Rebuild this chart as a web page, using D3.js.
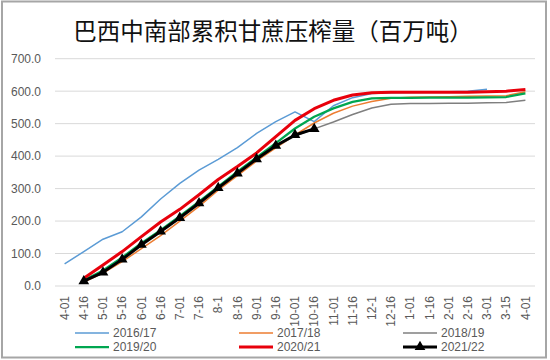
<!DOCTYPE html>
<html><head><meta charset="utf-8">
<script src="https://cdn.jsdelivr.net/npm/d3@7"></script>
<style>body{margin:0;background:#fff}svg{display:block}</style>
</head><body><svg id="c" width="550" height="360"></svg>
<script>
const categories = ["4-01","4-16","5-01","5-16","6-01","6-16","7-01","7-16","8-1","8-16","9-01","9-16","10-01","10-16","11-01","11-16","12-1","12-16","1-01","1-16","2-01","2-16","3-01","3-15","4-01"];
const yTicks = [0,100,200,300,400,500,600,700];
const s2016 = [68,106,144,167,213,268,316,357,390,426,470,506,536,506,555,580,593,595,596,597,598,600,606,null,null];
const s2017 = [null,12,40,75,115,155,200,245,295,340,385,425,465,502,532,554,568,578,581,582,583,584,585,586,598];
const s2018 = [null,15,45,85,128,168,210,255,302,348,392,430,462,484,505,528,548,560,562,562,563,563,564,565,572];
const s2019 = [null,18,48,88,132,172,215,260,306,352,396,440,485,521,547,567,578,579,579,580,580,580,581,582,593];
const s2020 = [null,24,65,106,152,197,236,281,328,368,410,460,510,546,572,588,595,597,597,597,597,597,598,600,605];
const s2021 = [null,15,42,82,127,168,210,255,302,347,391,432,465,484,null,null,null,null,null,null,null,null,null,null,null];
const seriesNames = ["2016/17","2017/18","2018/19","2019/20","2020/21","2021/22"];

const series = [
  {name:seriesNames[0], values:s2016, color:"#5B9BD5", w:1.5},
  {name:seriesNames[1], values:s2017, color:"#ED7D31", w:1.5},
  {name:seriesNames[2], values:s2018, color:"#7F7F7F", w:1.5},
  {name:seriesNames[3], values:s2019, color:"#00A650", w:2.25},
  {name:seriesNames[4], values:s2020, color:"#E8000B", w:3},
  {name:seriesNames[5], values:s2021, color:"#000000", w:3, marker:true}
];

const svg = d3.select("#c");
svg.append("rect").attr("x",2).attr("y",1.5).attr("width",544).attr("height",356)
  .attr("fill","#fff").attr("stroke","#a6a6a6").attr("stroke-width",2);

svg.append("text").attr("x",273).attr("y",39.5).attr("text-anchor","middle")
  .attr("font-family","'Noto Sans CJK SC'").attr("font-size",23.5).attr("fill","#111")
  .text("巴西中南部累积甘蔗压榨量（百万吨）");

const x = d3.scaleBand().domain(d3.range(categories.length)).range([55,535]);
const y = d3.scaleLinear().domain([0,700]).range([286,58.7]);
const cx = i => x(i) + x.bandwidth()/2;

// grid
svg.append("g").selectAll("line").data(yTicks).join("line")
  .attr("x1",55).attr("x2",535).attr("y1",d=>y(d)).attr("y2",d=>y(d))
  .attr("stroke","#d9d9d9").attr("stroke-width",1);

// y axis labels
const yAxis = d3.axisLeft(y).tickValues(yTicks).tickFormat(d3.format(".1f")).tickSize(0).tickPadding(0);
const yg = svg.append("g").attr("transform","translate(41,0)").call(yAxis);
yg.select(".domain").remove();
yg.selectAll("text").attr("font-family","'Liberation Sans', Arial").attr("font-size",12).attr("fill","#595959");

// x axis labels
const xAxis = d3.axisBottom(x).tickFormat(i=>categories[i]).tickSize(0).tickPadding(0);
const xg = svg.append("g").attr("transform","translate(0,296)").call(xAxis);
xg.select(".domain").remove();
xg.selectAll("text").attr("font-family","'Liberation Sans', Arial").attr("font-size",12).attr("fill","#595959")
  .attr("transform","rotate(-90)").attr("text-anchor","end").attr("dy","0.35em").attr("x",0).attr("y",0);

// lines
const line = d3.line().defined(d=>d.v!=null).x(d=>cx(d.i)).y(d=>y(d.v));
series.forEach(s=>{
  const pts = s.values.map((v,i)=>({i,v}));
  svg.append("path").datum(pts).attr("d",line).attr("fill","none")
    .attr("stroke",s.color).attr("stroke-width",s.w).attr("stroke-linejoin","round");
  if(s.marker){
    svg.append("g").selectAll("path").data(pts.filter(d=>d.v!=null)).join("path")
      .attr("d",d3.symbol(d3.symbolTriangle,50))
      .attr("transform",d=>`translate(${cx(d.i)},${y(d.v)})`).attr("fill","#000");
  }
});

// legend
const legPos = [[75,333],[239,333],[403,333],[75,347],[239,347],[403,347]];
series.forEach((s,k)=>{
  const [lx,ly] = legPos[k];
  const g = svg.append("g");
  g.append("line").attr("x1",lx).attr("x2",lx+34).attr("y1",ly).attr("y2",ly)
    .attr("stroke",s.color).attr("stroke-width",s.w);
  if(s.marker) g.append("path").attr("d",d3.symbol(d3.symbolTriangle,50)).attr("transform",`translate(${lx+17},${ly})`);
  g.append("text").attr("x",lx+38).attr("y",ly).attr("dy","0.35em")
    .attr("font-family","'Liberation Sans', Arial").attr("font-size",12).attr("fill","#595959").text(s.name);
});
</script></body></html>
